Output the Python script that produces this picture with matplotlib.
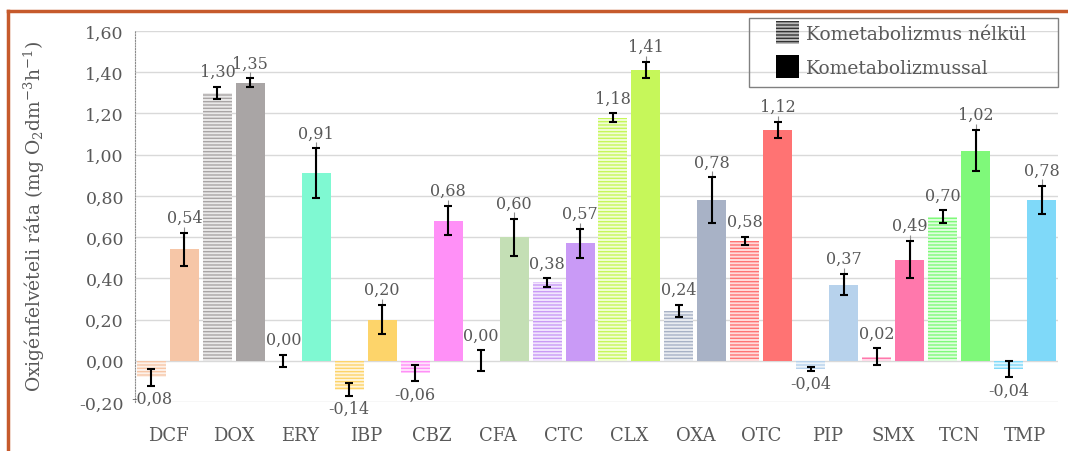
import matplotlib
matplotlib.use("Agg")
import matplotlib.pyplot as plt
from matplotlib.patches import Patch, Rectangle
from matplotlib.lines import Line2D
from matplotlib.colors import to_rgb
import numpy as np

# Compounds on the x axis
categories = ["DCF", "DOX", "ERY", "IBP", "CBZ", "CFA", "CTC",
              "CLX", "OXA", "OTC", "PIP", "SMX", "TCN", "TMP"]

# Oxygen uptake rate without co-metabolism (mg O2 dm-3 h-1) and its error
without_vals = [-0.08, 1.30, 0.00, -0.14, -0.06, 0.00, 0.38,
                1.18, 0.24, 0.58, -0.04, 0.02, 0.70, -0.04]
without_err = [0.04, 0.03, 0.03, 0.03, 0.04, 0.05, 0.02,
               0.02, 0.03, 0.02, 0.01, 0.04, 0.03, 0.04]

# Oxygen uptake rate with co-metabolism and its error
with_vals = [0.54, 1.35, 0.91, 0.20, 0.68, 0.60, 0.57,
             1.41, 0.78, 1.12, 0.37, 0.49, 1.02, 0.78]
with_err = [0.08, 0.02, 0.12, 0.07, 0.07, 0.09, 0.07,
            0.04, 0.11, 0.04, 0.05, 0.09, 0.10, 0.07]

colors = ["#F6C6A7", "#A9A5A5", "#7FF9D2", "#FDD46A", "#FF90F7", "#C4DFB5", "#C99AF6",
          "#C6F75A", "#A8B2C6", "#FF7373", "#B7D2EC", "#FF78AC", "#7FF97A", "#7FD9F9"]

yticks = [-0.20, 0.00, 0.20, 0.40, 0.60, 0.80, 1.00, 1.20, 1.40, 1.60]
legend_labels = ["Kometabolizmus nélkül", "Kometabolizmussal"]
ylabel = r"Oxigénfelvételi ráta (mg O$_2$dm$^{-3}$h$^{-1}$)"

TXT = "#595959"
plt.rcParams["font.family"] = ["DejaVu Serif", "DejaVu Sans"]
plt.rcParams["mathtext.fontset"] = "dejavuserif"
plt.rcParams["hatch.linewidth"] = 1.0

W, H = 1068, 452


def lighten(c, f):
    r, g, b = to_rgb(c)
    return (r + (1 - r) * f, g + (1 - g) * f, b + (1 - b) * f)


fmt = lambda v: f"{v:.2f}".replace(".", ",")

fig = plt.figure(figsize=(W / 100, H / 100), dpi=100)
ax = fig.add_axes([135 / W, 1 - 403 / H, (1058 - 135) / W, (403 - 32) / H])

x = np.arange(len(categories))
w = 0.44
off = 0.25

for i in range(len(categories)):
    c = colors[i]
    ax.bar(x[i] - off, without_vals[i], w, facecolor=lighten(c, 0.75),
           edgecolor=c, hatch="-----", linewidth=0, zorder=2)
    ax.bar(x[i] + off, with_vals[i], w, color=c, linewidth=0, zorder=2)

# thin leader lines between value labels and the co-metabolism bars
for i in range(len(categories)):
    top = with_vals[i] + with_err[i]
    ax.vlines(x[i] + off, with_vals[i], top + 0.03, color="#8C8C8C", lw=0.8, zorder=3)

ax.errorbar(x - off, without_vals, yerr=without_err, fmt="none", ecolor="black",
            elinewidth=1.5, capsize=3, capthick=1.5, zorder=4)
ax.errorbar(x + off, with_vals, yerr=with_err, fmt="none", ecolor="black",
            elinewidth=1.5, capsize=3, capthick=1.5, zorder=4)


def value_label(xp, v, e):
    if v < 0:
        ax.annotate(fmt(v), xy=(xp, v - e), xytext=(0, -3), textcoords="offset points",
                    ha="center", va="top", fontsize=11.5, color=TXT, zorder=5)
    else:
        ax.annotate(fmt(v), xy=(xp, v + e), xytext=(0, 5), textcoords="offset points",
                    ha="center", va="bottom", fontsize=11.5, color=TXT, zorder=5)


for i in range(len(categories)):
    value_label(x[i] - off, without_vals[i], without_err[i])
    value_label(x[i] + off, with_vals[i], with_err[i])

ax.set_xlim(-0.5, len(categories) - 0.5)
ax.set_ylim(-0.2, 1.6)
ax.set_yticks(yticks)
ax.set_yticklabels([fmt(t) for t in yticks], fontsize=12.5, color=TXT)
ax.set_xticks(x)
ax.set_xticklabels(categories, fontsize=13, color=TXT)
ax.tick_params(length=0)
ax.tick_params(axis="x", pad=17)
ax.tick_params(axis="y", pad=8)
ax.grid(axis="y", color="#D9D9D9", lw=1.0, zorder=0)
ax.set_axisbelow(True)
for s in ["top", "right", "bottom"]:
    ax.spines[s].set_visible(False)
ax.spines["left"].set_color("#8C8C8C")
ax.spines["left"].set_linestyle((0, (1, 1.5)))
ax.spines["left"].set_linewidth(0.8)

ax.set_ylabel(ylabel, fontsize=13.5, color=TXT)
ax.yaxis.set_label_coords((47 - 135) / (1058 - 135), (403 - 216) / (403 - 32))

# legend entries, with a separate frame box
handles = [Patch(facecolor="#BBBBBB", edgecolor="#333333", hatch="-----", linewidth=0),
           Patch(facecolor="black", linewidth=0)]
leg = fig.legend(handles, legend_labels, loc="upper left",
                 bbox_to_anchor=(776 / W, 1 - 22 / H), fontsize=13.5,
                 frameon=False, borderpad=0, borderaxespad=0,
                 handlelength=1.25, handleheight=1.5, handletextpad=0.35,
                 labelspacing=0.6, labelcolor=TXT)
fig.add_artist(Rectangle((749 / W, 1 - 88 / H), (1058 - 749) / W, (88 - 19) / H,
                         transform=fig.transFigure, facecolor="none",
                         edgecolor="#808080", lw=1.0))

# orange frame around the figure
frame_c = "#C65A2C"
fig.add_artist(Line2D([8 / W, 1.0], [1 - 12 / H, 1 - 12 / H],
                      transform=fig.transFigure, color=frame_c, lw=2.5))
fig.add_artist(Line2D([8 / W, 8 / W], [0.0, 1 - 12 / H],
                      transform=fig.transFigure, color=frame_c, lw=2.5))

fig.savefig("out.png", dpi=100, facecolor="white")
